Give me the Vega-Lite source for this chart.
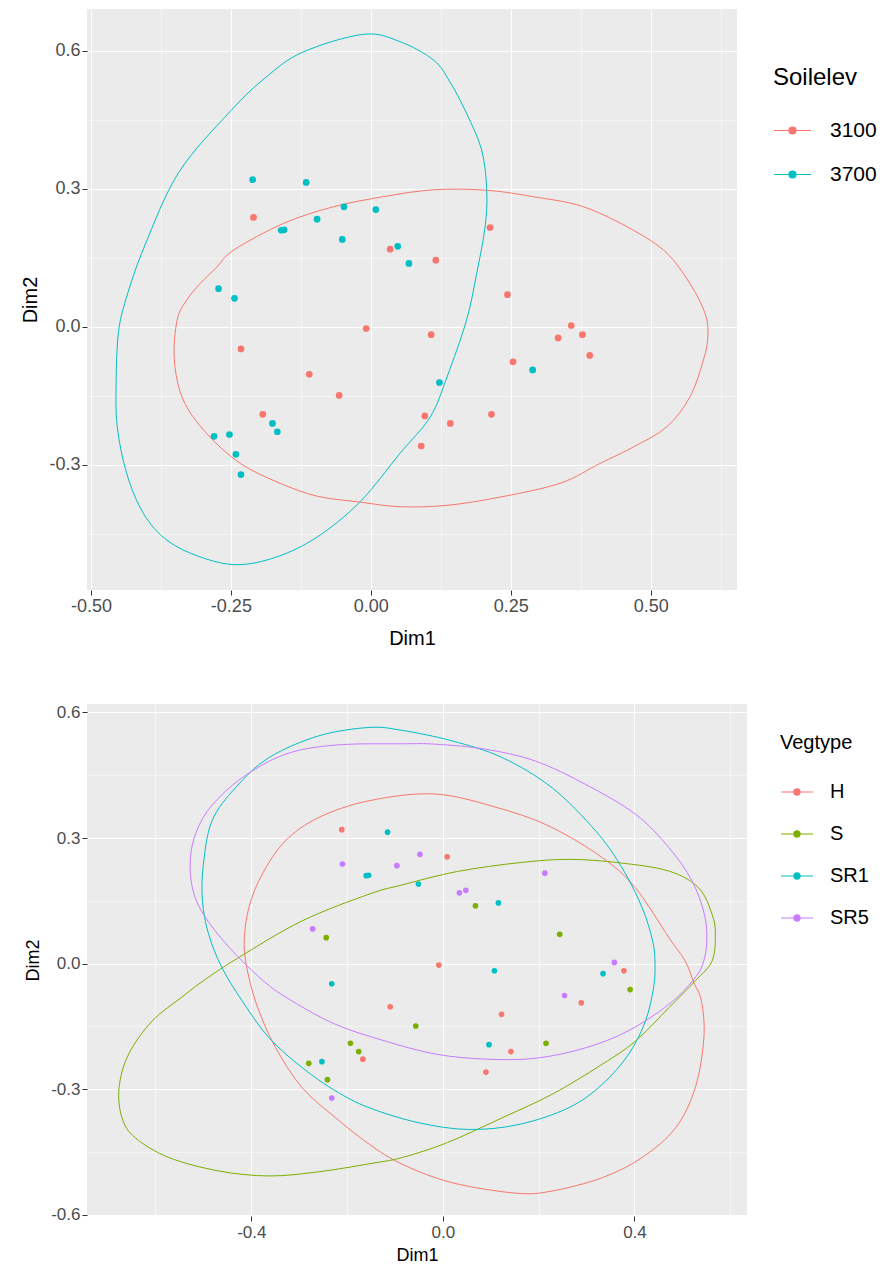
{
  "$schema": "https://vega.github.io/schema/vega-lite/v6.json",
  "background": "white",
  "padding": {"left": 20, "top": 9, "right": 5, "bottom": 5},
  "spacing": 55,
  "config": {
    "view": {"fill": "#EBEBEB", "stroke": null},
    "font": "Liberation Sans",
    "axis": {"labelFont": "Liberation Sans", "titleFont": "Liberation Sans", "titleFontWeight": "normal", "titleColor": "black", "labelColor": "#4D4D4D", "tickColor": "#333333", "domain": false, "gridColor": "white"},
    "legend": {"labelFont": "Liberation Sans", "titleFont": "Liberation Sans", "titleFontWeight": "normal", "titleColor": "black", "labelColor": "black"}
  },
  "resolve": {"scale": {"color": "independent"}, "legend": {"color": "independent"}},
  "datasets": {
    "pts": [
      {"Dim1": -0.211, "Dim2": 0.320, "Soilelev": "3700", "Vegtype": "H"},
      {"Dim1": -0.1155, "Dim2": 0.314, "Soilelev": "3700", "Vegtype": "SR1"},
      {"Dim1": -0.160, "Dim2": 0.210, "Soilelev": "3700", "Vegtype": "SR1"},
      {"Dim1": -0.155, "Dim2": 0.211, "Soilelev": "3700", "Vegtype": "SR1"},
      {"Dim1": -0.096, "Dim2": 0.234, "Soilelev": "3700", "Vegtype": "SR5"},
      {"Dim1": -0.048, "Dim2": 0.261, "Soilelev": "3700", "Vegtype": "SR5"},
      {"Dim1": 0.009, "Dim2": 0.255, "Soilelev": "3700", "Vegtype": "H"},
      {"Dim1": -0.051, "Dim2": 0.190, "Soilelev": "3700", "Vegtype": "SR1"},
      {"Dim1": 0.048, "Dim2": 0.175, "Soilelev": "3700", "Vegtype": "SR5"},
      {"Dim1": 0.068, "Dim2": 0.138, "Soilelev": "3700", "Vegtype": "S"},
      {"Dim1": -0.272, "Dim2": 0.083, "Soilelev": "3700", "Vegtype": "SR5"},
      {"Dim1": -0.2435, "Dim2": 0.062, "Soilelev": "3700", "Vegtype": "S"},
      {"Dim1": 0.1225, "Dim2": -0.121, "Soilelev": "3700", "Vegtype": "H"},
      {"Dim1": -0.1757, "Dim2": -0.210, "Soilelev": "3700", "Vegtype": "S"},
      {"Dim1": -0.167, "Dim2": -0.228, "Soilelev": "3700", "Vegtype": "H"},
      {"Dim1": -0.280, "Dim2": -0.238, "Soilelev": "3700", "Vegtype": "S"},
      {"Dim1": -0.2525, "Dim2": -0.234, "Soilelev": "3700", "Vegtype": "SR1"},
      {"Dim1": -0.241, "Dim2": -0.277, "Soilelev": "3700", "Vegtype": "S"},
      {"Dim1": -0.232, "Dim2": -0.321, "Soilelev": "3700", "Vegtype": "SR5"},
      {"Dim1": 0.289, "Dim2": -0.0935, "Soilelev": "3700", "Vegtype": "H"},
      {"Dim1": -0.2096, "Dim2": 0.238, "Soilelev": "3100", "Vegtype": "SR5"},
      {"Dim1": 0.0345, "Dim2": 0.169, "Soilelev": "3100", "Vegtype": "SR5"},
      {"Dim1": 0.116, "Dim2": 0.145, "Soilelev": "3100", "Vegtype": "SR1"},
      {"Dim1": 0.213, "Dim2": 0.216, "Soilelev": "3100", "Vegtype": "SR5"},
      {"Dim1": 0.244, "Dim2": 0.070, "Soilelev": "3100", "Vegtype": "S"},
      {"Dim1": -0.0084, "Dim2": -0.0035, "Soilelev": "3100", "Vegtype": "H"},
      {"Dim1": 0.1077, "Dim2": -0.017, "Soilelev": "3100", "Vegtype": "SR1"},
      {"Dim1": -0.232, "Dim2": -0.048, "Soilelev": "3100", "Vegtype": "SR1"},
      {"Dim1": -0.110, "Dim2": -0.103, "Soilelev": "3100", "Vegtype": "H"},
      {"Dim1": -0.0566, "Dim2": -0.149, "Soilelev": "3100", "Vegtype": "S"},
      {"Dim1": -0.193, "Dim2": -0.190, "Soilelev": "3100", "Vegtype": "S"},
      {"Dim1": 0.0964, "Dim2": -0.1935, "Soilelev": "3100", "Vegtype": "SR1"},
      {"Dim1": 0.142, "Dim2": -0.210, "Soilelev": "3100", "Vegtype": "H"},
      {"Dim1": 0.090, "Dim2": -0.259, "Soilelev": "3100", "Vegtype": "H"},
      {"Dim1": 0.358, "Dim2": 0.003, "Soilelev": "3100", "Vegtype": "SR5"},
      {"Dim1": 0.3345, "Dim2": -0.024, "Soilelev": "3100", "Vegtype": "SR1"},
      {"Dim1": 0.378, "Dim2": -0.017, "Soilelev": "3100", "Vegtype": "H"},
      {"Dim1": 0.391, "Dim2": -0.062, "Soilelev": "3100", "Vegtype": "S"},
      {"Dim1": 0.254, "Dim2": -0.076, "Soilelev": "3100", "Vegtype": "SR5"},
      {"Dim1": 0.2154, "Dim2": -0.190, "Soilelev": "3100", "Vegtype": "S"}
    ],
    "ellTop": [
      {"Soilelev": "3700", "i": 0, "Dim1": -0.013, "Dim2": 0.636},
      {"Soilelev": "3700", "i": 1, "Dim1": 0.052, "Dim2": 0.620},
      {"Soilelev": "3700", "i": 2, "Dim1": 0.112, "Dim2": 0.580},
      {"Soilelev": "3700", "i": 3, "Dim1": 0.141, "Dim2": 0.533},
      {"Soilelev": "3700", "i": 4, "Dim1": 0.171, "Dim2": 0.464},
      {"Soilelev": "3700", "i": 5, "Dim1": 0.198, "Dim2": 0.384},
      {"Soilelev": "3700", "i": 6, "Dim1": 0.207, "Dim2": 0.297},
      {"Soilelev": "3700", "i": 7, "Dim1": 0.204, "Dim2": 0.217},
      {"Soilelev": "3700", "i": 8, "Dim1": 0.189, "Dim2": 0.116},
      {"Soilelev": "3700", "i": 9, "Dim1": 0.171, "Dim2": 0.015},
      {"Soilelev": "3700", "i": 10, "Dim1": 0.136, "Dim2": -0.109},
      {"Soilelev": "3700", "i": 11, "Dim1": 0.106, "Dim2": -0.196},
      {"Soilelev": "3700", "i": 12, "Dim1": 0.052, "Dim2": -0.275},
      {"Soilelev": "3700", "i": 13, "Dim1": -0.019, "Dim2": -0.380},
      {"Soilelev": "3700", "i": 14, "Dim1": -0.096, "Dim2": -0.457},
      {"Soilelev": "3700", "i": 15, "Dim1": -0.168, "Dim2": -0.500},
      {"Soilelev": "3700", "i": 16, "Dim1": -0.239, "Dim2": -0.517},
      {"Soilelev": "3700", "i": 17, "Dim1": -0.305, "Dim2": -0.500},
      {"Soilelev": "3700", "i": 18, "Dim1": -0.364, "Dim2": -0.464},
      {"Soilelev": "3700", "i": 19, "Dim1": -0.406, "Dim2": -0.406},
      {"Soilelev": "3700", "i": 20, "Dim1": -0.436, "Dim2": -0.319},
      {"Soilelev": "3700", "i": 21, "Dim1": -0.453, "Dim2": -0.217},
      {"Soilelev": "3700", "i": 22, "Dim1": -0.455, "Dim2": -0.123},
      {"Soilelev": "3700", "i": 23, "Dim1": -0.451, "Dim2": -0.014},
      {"Soilelev": "3700", "i": 24, "Dim1": -0.437, "Dim2": 0.062},
      {"Soilelev": "3700", "i": 25, "Dim1": -0.404, "Dim2": 0.176},
      {"Soilelev": "3700", "i": 26, "Dim1": -0.343, "Dim2": 0.336},
      {"Soilelev": "3700", "i": 27, "Dim1": -0.250, "Dim2": 0.470},
      {"Soilelev": "3700", "i": 28, "Dim1": -0.188, "Dim2": 0.542},
      {"Soilelev": "3700", "i": 29, "Dim1": -0.122, "Dim2": 0.597},
      {"Soilelev": "3100", "i": 0, "Dim1": -0.305, "Dim2": 0.094},
      {"Soilelev": "3100", "i": 1, "Dim1": -0.275, "Dim2": 0.130},
      {"Soilelev": "3100", "i": 2, "Dim1": -0.245, "Dim2": 0.167},
      {"Soilelev": "3100", "i": 3, "Dim1": -0.156, "Dim2": 0.225},
      {"Soilelev": "3100", "i": 4, "Dim1": -0.067, "Dim2": 0.261},
      {"Soilelev": "3100", "i": 5, "Dim1": 0.0225, "Dim2": 0.283},
      {"Soilelev": "3100", "i": 6, "Dim1": 0.112, "Dim2": 0.298},
      {"Soilelev": "3100", "i": 7, "Dim1": 0.207, "Dim2": 0.297},
      {"Soilelev": "3100", "i": 8, "Dim1": 0.290, "Dim2": 0.283},
      {"Soilelev": "3100", "i": 9, "Dim1": 0.380, "Dim2": 0.261},
      {"Soilelev": "3100", "i": 10, "Dim1": 0.469, "Dim2": 0.210},
      {"Soilelev": "3100", "i": 11, "Dim1": 0.529, "Dim2": 0.160},
      {"Soilelev": "3100", "i": 12, "Dim1": 0.570, "Dim2": 0.094},
      {"Soilelev": "3100", "i": 13, "Dim1": 0.597, "Dim2": 0.029},
      {"Soilelev": "3100", "i": 14, "Dim1": 0.602, "Dim2": -0.020},
      {"Soilelev": "3100", "i": 15, "Dim1": 0.594, "Dim2": -0.072},
      {"Soilelev": "3100", "i": 16, "Dim1": 0.570, "Dim2": -0.152},
      {"Soilelev": "3100", "i": 17, "Dim1": 0.529, "Dim2": -0.217},
      {"Soilelev": "3100", "i": 18, "Dim1": 0.469, "Dim2": -0.261},
      {"Soilelev": "3100", "i": 19, "Dim1": 0.409, "Dim2": -0.297},
      {"Soilelev": "3100", "i": 20, "Dim1": 0.338, "Dim2": -0.340},
      {"Soilelev": "3100", "i": 21, "Dim1": 0.231, "Dim2": -0.370},
      {"Soilelev": "3100", "i": 22, "Dim1": 0.136, "Dim2": -0.388},
      {"Soilelev": "3100", "i": 23, "Dim1": 0.052, "Dim2": -0.391},
      {"Soilelev": "3100", "i": 24, "Dim1": -0.019, "Dim2": -0.381},
      {"Soilelev": "3100", "i": 25, "Dim1": -0.096, "Dim2": -0.368},
      {"Soilelev": "3100", "i": 26, "Dim1": -0.162, "Dim2": -0.340},
      {"Soilelev": "3100", "i": 27, "Dim1": -0.233, "Dim2": -0.297},
      {"Soilelev": "3100", "i": 28, "Dim1": -0.293, "Dim2": -0.232},
      {"Soilelev": "3100", "i": 29, "Dim1": -0.335, "Dim2": -0.159},
      {"Soilelev": "3100", "i": 30, "Dim1": -0.351, "Dim2": -0.072},
      {"Soilelev": "3100", "i": 31, "Dim1": -0.346, "Dim2": 0.015},
      {"Soilelev": "3100", "i": 32, "Dim1": -0.329, "Dim2": 0.058}
    ],
    "ellBot": [
      {"Vegtype": "H", "i": 0, "Dim1": -0.015, "Dim2": 0.405},
      {"Vegtype": "H", "i": 1, "Dim1": 0.124, "Dim2": 0.369},
      {"Vegtype": "H", "i": 2, "Dim1": 0.228, "Dim2": 0.325},
      {"Vegtype": "H", "i": 3, "Dim1": 0.333, "Dim2": 0.253},
      {"Vegtype": "H", "i": 4, "Dim1": 0.402, "Dim2": 0.181},
      {"Vegtype": "H", "i": 5, "Dim1": 0.472, "Dim2": 0.062},
      {"Vegtype": "H", "i": 6, "Dim1": 0.506, "Dim2": 0.006},
      {"Vegtype": "H", "i": 7, "Dim1": 0.524, "Dim2": -0.045},
      {"Vegtype": "H", "i": 8, "Dim1": 0.540, "Dim2": -0.090},
      {"Vegtype": "H", "i": 9, "Dim1": 0.545, "Dim2": -0.177},
      {"Vegtype": "H", "i": 10, "Dim1": 0.527, "Dim2": -0.296},
      {"Vegtype": "H", "i": 11, "Dim1": 0.486, "Dim2": -0.392},
      {"Vegtype": "H", "i": 12, "Dim1": 0.416, "Dim2": -0.463},
      {"Vegtype": "H", "i": 13, "Dim1": 0.333, "Dim2": -0.511},
      {"Vegtype": "H", "i": 14, "Dim1": 0.228, "Dim2": -0.543},
      {"Vegtype": "H", "i": 15, "Dim1": 0.152, "Dim2": -0.548},
      {"Vegtype": "H", "i": 16, "Dim1": 0.019, "Dim2": -0.523},
      {"Vegtype": "H", "i": 17, "Dim1": -0.085, "Dim2": -0.479},
      {"Vegtype": "H", "i": 18, "Dim1": -0.154, "Dim2": -0.431},
      {"Vegtype": "H", "i": 19, "Dim1": -0.224, "Dim2": -0.368},
      {"Vegtype": "H", "i": 20, "Dim1": -0.294, "Dim2": -0.296},
      {"Vegtype": "H", "i": 21, "Dim1": -0.349, "Dim2": -0.201},
      {"Vegtype": "H", "i": 22, "Dim1": -0.384, "Dim2": -0.113},
      {"Vegtype": "H", "i": 23, "Dim1": -0.405, "Dim2": -0.033},
      {"Vegtype": "H", "i": 24, "Dim1": -0.415, "Dim2": 0.046},
      {"Vegtype": "H", "i": 25, "Dim1": -0.405, "Dim2": 0.134},
      {"Vegtype": "H", "i": 26, "Dim1": -0.377, "Dim2": 0.214},
      {"Vegtype": "H", "i": 27, "Dim1": -0.329, "Dim2": 0.293},
      {"Vegtype": "H", "i": 28, "Dim1": -0.259, "Dim2": 0.349},
      {"Vegtype": "H", "i": 29, "Dim1": -0.154, "Dim2": 0.389},
      {"Vegtype": "S", "i": 0, "Dim1": -0.676, "Dim2": -0.296},
      {"Vegtype": "S", "i": 1, "Dim1": -0.656, "Dim2": -0.216},
      {"Vegtype": "S", "i": 2, "Dim1": -0.607, "Dim2": -0.137},
      {"Vegtype": "S", "i": 3, "Dim1": -0.545, "Dim2": -0.080},
      {"Vegtype": "S", "i": 4, "Dim1": -0.505, "Dim2": -0.045},
      {"Vegtype": "S", "i": 5, "Dim1": -0.430, "Dim2": 0.012},
      {"Vegtype": "S", "i": 6, "Dim1": -0.294, "Dim2": 0.102},
      {"Vegtype": "S", "i": 7, "Dim1": -0.154, "Dim2": 0.166},
      {"Vegtype": "S", "i": 8, "Dim1": -0.085, "Dim2": 0.188},
      {"Vegtype": "S", "i": 9, "Dim1": 0.030, "Dim2": 0.220},
      {"Vegtype": "S", "i": 10, "Dim1": 0.159, "Dim2": 0.241},
      {"Vegtype": "S", "i": 11, "Dim1": 0.263, "Dim2": 0.249},
      {"Vegtype": "S", "i": 12, "Dim1": 0.367, "Dim2": 0.241},
      {"Vegtype": "S", "i": 13, "Dim1": 0.472, "Dim2": 0.221},
      {"Vegtype": "S", "i": 14, "Dim1": 0.534, "Dim2": 0.181},
      {"Vegtype": "S", "i": 15, "Dim1": 0.562, "Dim2": 0.118},
      {"Vegtype": "S", "i": 16, "Dim1": 0.569, "Dim2": 0.070},
      {"Vegtype": "S", "i": 17, "Dim1": 0.562, "Dim2": 0.006},
      {"Vegtype": "S", "i": 18, "Dim1": 0.527, "Dim2": -0.041},
      {"Vegtype": "S", "i": 19, "Dim1": 0.472, "Dim2": -0.105},
      {"Vegtype": "S", "i": 20, "Dim1": 0.402, "Dim2": -0.185},
      {"Vegtype": "S", "i": 21, "Dim1": 0.333, "Dim2": -0.240},
      {"Vegtype": "S", "i": 22, "Dim1": 0.228, "Dim2": -0.312},
      {"Vegtype": "S", "i": 23, "Dim1": 0.124, "Dim2": -0.368},
      {"Vegtype": "S", "i": 24, "Dim1": 0.010, "Dim2": -0.427},
      {"Vegtype": "S", "i": 25, "Dim1": -0.085, "Dim2": -0.463},
      {"Vegtype": "S", "i": 26, "Dim1": -0.154, "Dim2": -0.478},
      {"Vegtype": "S", "i": 27, "Dim1": -0.259, "Dim2": -0.497},
      {"Vegtype": "S", "i": 28, "Dim1": -0.363, "Dim2": -0.507},
      {"Vegtype": "S", "i": 29, "Dim1": -0.468, "Dim2": -0.495},
      {"Vegtype": "S", "i": 30, "Dim1": -0.572, "Dim2": -0.463},
      {"Vegtype": "S", "i": 31, "Dim1": -0.642, "Dim2": -0.416},
      {"Vegtype": "S", "i": 32, "Dim1": -0.670, "Dim2": -0.368},
      {"Vegtype": "SR1", "i": 0, "Dim1": -0.154, "Dim2": 0.564},
      {"Vegtype": "SR1", "i": 1, "Dim1": -0.085, "Dim2": 0.557},
      {"Vegtype": "SR1", "i": 2, "Dim1": 0.019, "Dim2": 0.532},
      {"Vegtype": "SR1", "i": 3, "Dim1": 0.124, "Dim2": 0.492},
      {"Vegtype": "SR1", "i": 4, "Dim1": 0.228, "Dim2": 0.420},
      {"Vegtype": "SR1", "i": 5, "Dim1": 0.319, "Dim2": 0.317},
      {"Vegtype": "SR1", "i": 6, "Dim1": 0.374, "Dim2": 0.229},
      {"Vegtype": "SR1", "i": 7, "Dim1": 0.416, "Dim2": 0.134},
      {"Vegtype": "SR1", "i": 8, "Dim1": 0.438, "Dim2": 0.054},
      {"Vegtype": "SR1", "i": 9, "Dim1": 0.443, "Dim2": 0.000},
      {"Vegtype": "SR1", "i": 10, "Dim1": 0.440, "Dim2": -0.057},
      {"Vegtype": "SR1", "i": 11, "Dim1": 0.423, "Dim2": -0.137},
      {"Vegtype": "SR1", "i": 12, "Dim1": 0.388, "Dim2": -0.216},
      {"Vegtype": "SR1", "i": 13, "Dim1": 0.333, "Dim2": -0.288},
      {"Vegtype": "SR1", "i": 14, "Dim1": 0.263, "Dim2": -0.344},
      {"Vegtype": "SR1", "i": 15, "Dim1": 0.159, "Dim2": -0.384},
      {"Vegtype": "SR1", "i": 16, "Dim1": 0.054, "Dim2": -0.396},
      {"Vegtype": "SR1", "i": 17, "Dim1": -0.050, "Dim2": -0.380},
      {"Vegtype": "SR1", "i": 18, "Dim1": -0.154, "Dim2": -0.344},
      {"Vegtype": "SR1", "i": 19, "Dim1": -0.224, "Dim2": -0.304},
      {"Vegtype": "SR1", "i": 20, "Dim1": -0.294, "Dim2": -0.248},
      {"Vegtype": "SR1", "i": 21, "Dim1": -0.363, "Dim2": -0.177},
      {"Vegtype": "SR1", "i": 22, "Dim1": -0.419, "Dim2": -0.089},
      {"Vegtype": "SR1", "i": 23, "Dim1": -0.461, "Dim2": -0.010},
      {"Vegtype": "SR1", "i": 24, "Dim1": -0.489, "Dim2": 0.070},
      {"Vegtype": "SR1", "i": 25, "Dim1": -0.502, "Dim2": 0.150},
      {"Vegtype": "SR1", "i": 26, "Dim1": -0.500, "Dim2": 0.237},
      {"Vegtype": "SR1", "i": 27, "Dim1": -0.482, "Dim2": 0.341},
      {"Vegtype": "SR1", "i": 28, "Dim1": -0.433, "Dim2": 0.420},
      {"Vegtype": "SR1", "i": 29, "Dim1": -0.363, "Dim2": 0.492},
      {"Vegtype": "SR1", "i": 30, "Dim1": -0.259, "Dim2": 0.544},
      {"Vegtype": "SR5", "i": 0, "Dim1": -0.085, "Dim2": 0.525},
      {"Vegtype": "SR5", "i": 1, "Dim1": -0.015, "Dim2": 0.524},
      {"Vegtype": "SR5", "i": 2, "Dim1": 0.089, "Dim2": 0.512},
      {"Vegtype": "SR5", "i": 3, "Dim1": 0.193, "Dim2": 0.484},
      {"Vegtype": "SR5", "i": 4, "Dim1": 0.298, "Dim2": 0.428},
      {"Vegtype": "SR5", "i": 5, "Dim1": 0.402, "Dim2": 0.357},
      {"Vegtype": "SR5", "i": 6, "Dim1": 0.472, "Dim2": 0.277},
      {"Vegtype": "SR5", "i": 7, "Dim1": 0.520, "Dim2": 0.198},
      {"Vegtype": "SR5", "i": 8, "Dim1": 0.546, "Dim2": 0.118},
      {"Vegtype": "SR5", "i": 9, "Dim1": 0.551, "Dim2": 0.054},
      {"Vegtype": "SR5", "i": 10, "Dim1": 0.543, "Dim2": 0.000},
      {"Vegtype": "SR5", "i": 11, "Dim1": 0.522, "Dim2": -0.040},
      {"Vegtype": "SR5", "i": 12, "Dim1": 0.472, "Dim2": -0.097},
      {"Vegtype": "SR5", "i": 13, "Dim1": 0.388, "Dim2": -0.160},
      {"Vegtype": "SR5", "i": 14, "Dim1": 0.298, "Dim2": -0.201},
      {"Vegtype": "SR5", "i": 15, "Dim1": 0.193, "Dim2": -0.226},
      {"Vegtype": "SR5", "i": 16, "Dim1": 0.089, "Dim2": -0.228},
      {"Vegtype": "SR5", "i": 17, "Dim1": -0.015, "Dim2": -0.216},
      {"Vegtype": "SR5", "i": 18, "Dim1": -0.120, "Dim2": -0.185},
      {"Vegtype": "SR5", "i": 19, "Dim1": -0.224, "Dim2": -0.145},
      {"Vegtype": "SR5", "i": 20, "Dim1": -0.315, "Dim2": -0.089},
      {"Vegtype": "SR5", "i": 21, "Dim1": -0.375, "Dim2": -0.041},
      {"Vegtype": "SR5", "i": 22, "Dim1": -0.447, "Dim2": 0.040},
      {"Vegtype": "SR5", "i": 23, "Dim1": -0.500, "Dim2": 0.118},
      {"Vegtype": "SR5", "i": 24, "Dim1": -0.523, "Dim2": 0.181},
      {"Vegtype": "SR5", "i": 25, "Dim1": -0.527, "Dim2": 0.253},
      {"Vegtype": "SR5", "i": 26, "Dim1": -0.514, "Dim2": 0.317},
      {"Vegtype": "SR5", "i": 27, "Dim1": -0.482, "Dim2": 0.378},
      {"Vegtype": "SR5", "i": 28, "Dim1": -0.419, "Dim2": 0.444},
      {"Vegtype": "SR5", "i": 29, "Dim1": -0.329, "Dim2": 0.500},
      {"Vegtype": "SR5", "i": 30, "Dim1": -0.224, "Dim2": 0.522}
    ]
  },
  "vconcat": [
    {
      "width": 650,
      "height": 581,
      "resolve": {"axis": {"x": "independent", "y": "independent"}},
      "layer": [
        {
          "data": {"name": "ellTop"},
          "mark": {"type": "line", "interpolate": "cardinal-closed", "strokeWidth": 1},
          "encoding": {
            "x": {"field": "Dim1", "type": "quantitative", "scale": {"domain": [-0.507, 0.654], "nice": false, "zero": false}, "axis": {"orient": "top", "title": null, "values": [-0.375, -0.125, 0.125, 0.375, 0.625], "labels": false, "ticks": false, "grid": true, "gridWidth": 0.5}},
            "y": {"field": "Dim2", "type": "quantitative", "scale": {"domain": [-0.572, 0.691], "nice": false, "zero": false}, "axis": {"orient": "right", "title": null, "values": [-0.45, -0.15, 0.15, 0.45], "labels": false, "ticks": false, "grid": true, "gridWidth": 0.5}},
            "color": {"field": "Soilelev", "type": "nominal"},
            "order": {"field": "i", "type": "quantitative"}
          }
        },
        {
          "data": {"name": "pts"},
          "mark": {"type": "point", "filled": true, "size": 45, "opacity": 1},
          "encoding": {
            "x": {"field": "Dim1", "type": "quantitative",
              "axis": {"orient": "bottom", "title": "Dim1", "values": [-0.5, -0.25, 0, 0.25, 0.5], "format": ".2f", "labelExpr": "replace(datum.label, '\u2212', '-')", "grid": true, "gridWidth": 1.1, "tickSize": 5, "labelFontSize": 18, "titleFontSize": 20, "labelPadding": 2, "titlePadding": 13}},
            "y": {"field": "Dim2", "type": "quantitative",
              "axis": {"orient": "left", "title": "Dim2", "values": [-0.3, 0, 0.3, 0.6], "format": ".1f", "labelExpr": "replace(datum.label, '\u2212', '-')", "grid": true, "gridWidth": 1.1, "tickSize": 5, "labelFontSize": 18, "titleFontSize": 20, "labelPadding": 2, "titlePadding": 8}},
            "color": {"field": "Soilelev", "type": "nominal", "scale": {"domain": ["3100", "3700"], "range": ["#F8766D", "#00BFC4"]},
              "legend": {"title": "Soilelev", "orient": "none", "legendX": 686, "legendY": 57, "titleFontSize": 24, "labelFontSize": 21, "titlePadding": 21, "rowPadding": 14, "labelOffset": 18,
                "symbolType": "M-1,0H1M-0.19,0A0.19,0.19 0 1,0 0.19,0A0.19,0.19 0 1,0 -0.19,0Z", "symbolSize": 1369, "symbolStrokeWidth": 1.2}}
          }
        }
      ]
    },
    {
      "width": 660,
      "height": 512,
      "resolve": {"axis": {"x": "independent", "y": "independent"}},
      "layer": [
        {
          "data": {"name": "ellBot"},
          "mark": {"type": "line", "interpolate": "cardinal-closed", "strokeWidth": 1},
          "encoding": {
            "x": {"field": "Dim1", "type": "quantitative", "scale": {"domain": [-0.743, 0.635], "nice": false, "zero": false}, "axis": {"orient": "top", "title": null, "values": [-0.6, -0.2, 0.2, 0.6], "labels": false, "ticks": false, "grid": true, "gridWidth": 0.5}},
            "y": {"field": "Dim2", "type": "quantitative", "scale": {"domain": [-0.6026, 0.62], "nice": false, "zero": false}, "axis": {"orient": "right", "title": null, "values": [-0.45, -0.15, 0.15, 0.45], "labels": false, "ticks": false, "grid": true, "gridWidth": 0.5}},
            "color": {"field": "Vegtype", "type": "nominal"},
            "order": {"field": "i", "type": "quantitative"}
          }
        },
        {
          "data": {"name": "pts"},
          "mark": {"type": "point", "filled": true, "size": 32, "opacity": 1},
          "encoding": {
            "x": {"field": "Dim1", "type": "quantitative",
              "axis": {"orient": "bottom", "title": "Dim1", "values": [-0.4, 0, 0.4], "format": ".1f", "labelExpr": "replace(datum.label, '\u2212', '-')", "grid": true, "gridWidth": 1.1, "tickSize": 5, "labelFontSize": 17, "titleFontSize": 18, "labelPadding": 3, "titlePadding": 6}},
            "y": {"field": "Dim2", "type": "quantitative",
              "axis": {"orient": "left", "title": "Dim2", "values": [-0.6, -0.3, 0, 0.3, 0.6], "format": ".1f", "labelExpr": "replace(datum.label, '\u2212', '-')", "grid": true, "gridWidth": 1.1, "tickSize": 5, "labelFontSize": 17, "titleFontSize": 18, "labelPadding": 2, "titlePadding": 8}},
            "color": {"field": "Vegtype", "type": "nominal", "scale": {"domain": ["H", "S", "SR1", "SR5"], "range": ["#F8766D", "#7CAE00", "#00BFC4", "#C77CFF"]},
              "legend": {"title": "Vegtype", "orient": "none", "legendX": 693, "legendY": 29, "titleFontSize": 20, "labelFontSize": 20, "titlePadding": 22, "rowPadding": 15, "labelOffset": 16,
                "symbolType": "M-1,0H1M-0.19,0A0.19,0.19 0 1,0 0.19,0A0.19,0.19 0 1,0 -0.19,0Z", "symbolSize": 1024, "symbolStrokeWidth": 1.2}}
          }
        }
      ]
    }
  ]
}
